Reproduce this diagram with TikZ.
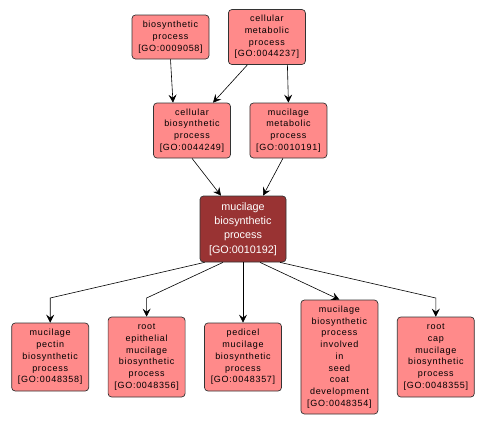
\documentclass[tikz,border=0pt]{standalone}
\usepackage{fontspec}
\setmainfont{Liberation Sans}
\newfontfamily\termfont[LetterSpace=8]{Liberation Sans}
\usetikzlibrary{positioning, arrows.meta}
\definecolor{termfill}{RGB}{255,138,138}
\definecolor{focusfill}{RGB}{153,51,51}
\tikzset{
	x=1pt, y=-1pt,
	>={Stealth[length=8pt,width=8pt,inset=3pt]}, % Puntas de flecha
	node distance=96.4pt, % Distancia entre nodos de una fila
	term/.style={draw=black!80, fill=termfill, rounded corners=3.5pt, line width=0.7pt,
		align=center, minimum width=77pt, inner sep=2pt,
		font=\termfont\fontsize{9}{11.7}\selectfont}, % Terminos GO
	focus/.style={term, fill=focusfill, text=white, minimum width=86pt,
		font=\fontsize{10.8}{14.2}\selectfont}, % Termino central
	link/.style={->, line width=0.6pt} % Relaciones
}

\begin{document}
\begin{tikzpicture}
	\useasboundingbox (0,0) rectangle (486,424);
	% fila superior
	\node[term, minimum height=44pt] (bio) at (170.5,37) {biosynthetic\\process\\{[GO:0009058]}};
	\node[term, minimum height=55pt, right of=bio] (cm) {cellular\\metabolic\\process\\{[GO:0044237]}};
	\node[term, minimum height=55pt] (cb) at (192,130.5) {cellular\\biosynthetic\\process\\{[GO:0044249]}};
	\node[term, minimum height=55pt, right of=cb] (mm) {mucilage\\metabolic\\process\\{[GO:0010191]}};
	% termino central
	\node[focus, minimum height=66pt] (mb) at (243,229) {mucilage\\biosynthetic\\process\\{[GO:0010192]}};
	% fila inferior
	\node[term, minimum height=68pt] (ped) at (243,357) {pedicel\\mucilage\\biosynthetic\\process\\{[GO:0048357]}};
	\node[term, minimum height=80pt, left of=ped] (epi) {root\\epithelial\\mucilage\\biosynthetic\\process\\{[GO:0048356]}};
	\node[term, minimum height=68pt, left of=epi] (pec) {mucilage\\pectin\\biosynthetic\\process\\{[GO:0048358]}};
	\node[term, minimum height=114pt, right of=ped] (seed) {mucilage\\biosynthetic\\process\\involved\\in\\seed\\coat\\development\\{[GO:0048354]}};
	\node[term, minimum height=80pt, right of=seed] (cap) {root\\cap\\mucilage\\biosynthetic\\process\\{[GO:0048355]}};
	% relaciones
	\draw[link] (bio.south) -- ([xshift=-19pt]cb.north);
	\draw[link] ([xshift=-19.5pt]cm.south) -- ([xshift=21pt]cb.north);
	\draw[link] ([xshift=20.5pt]cm.south) -- (mm.north);
	\draw[link] (cb.south) -- ([xshift=-22pt]mb.north);
	\draw[link] ([xshift=-5.5pt]mm.south) -- ([xshift=20pt]mb.north);
	\draw[link] ([xshift=5pt]mb.south west) -- (pec.north |- 0,298) -- (pec.north);
	\draw[link] ([xshift=-20pt]mb.south) -- (epi.north |- 0,298) -- (epi.north);
	\draw[link] (mb.south) -- (ped.north);
	\draw[link] ([xshift=17pt]mb.south) -- (seed.north);
	\draw[link] ([xshift=37pt]mb.south) -- (cap.north |- 0,298) -- (cap.north);
\end{tikzpicture}
\end{document}
